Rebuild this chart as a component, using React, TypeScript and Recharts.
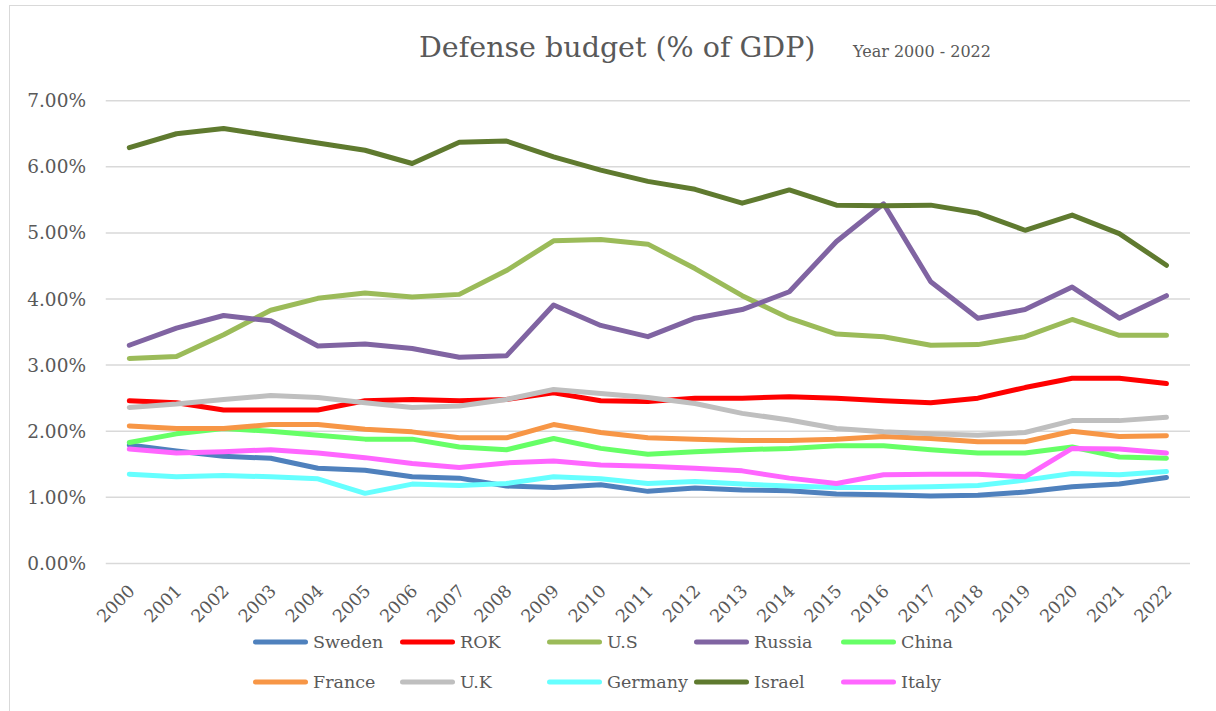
import React from 'react';
import { LineChart, Line, XAxis, YAxis, CartesianGrid, Legend } from 'recharts';

const YEARS = ['2000','2001','2002','2003','2004','2005','2006','2007','2008','2009','2010','2011','2012','2013','2014','2015','2016','2017','2018','2019','2020','2021','2022'];

const SWEDEN = [1.79,1.70,1.62,1.59,1.44,1.41,1.31,1.29,1.17,1.15,1.19,1.09,1.14,1.11,1.10,1.05,1.04,1.02,1.03,1.08,1.16,1.20,1.30];
const ROK = [2.46,2.43,2.32,2.32,2.32,2.46,2.48,2.46,2.48,2.58,2.46,2.45,2.50,2.50,2.52,2.50,2.46,2.43,2.50,2.66,2.80,2.80,2.72];
const US = [3.10,3.13,3.46,3.83,4.01,4.09,4.03,4.07,4.43,4.88,4.90,4.83,4.46,4.05,3.71,3.47,3.43,3.30,3.31,3.43,3.69,3.45,3.45];
const RUSSIA = [3.30,3.56,3.75,3.67,3.29,3.32,3.25,3.12,3.14,3.91,3.60,3.43,3.71,3.84,4.11,4.87,5.44,4.26,3.71,3.84,4.18,3.71,4.05];
const CHINA = [1.83,1.96,2.04,2.00,1.94,1.88,1.88,1.76,1.72,1.89,1.74,1.65,1.69,1.72,1.74,1.78,1.78,1.72,1.67,1.67,1.76,1.61,1.59];
const FRANCE = [2.08,2.04,2.04,2.10,2.10,2.03,1.99,1.90,1.90,2.10,1.98,1.90,1.88,1.86,1.86,1.88,1.92,1.89,1.84,1.84,2.00,1.92,1.93];
const UK = [2.36,2.41,2.48,2.54,2.51,2.43,2.36,2.38,2.48,2.63,2.57,2.51,2.42,2.27,2.17,2.04,1.99,1.96,1.94,1.98,2.16,2.16,2.21];
const GERMANY = [1.35,1.31,1.33,1.31,1.28,1.06,1.20,1.18,1.21,1.31,1.28,1.21,1.24,1.20,1.17,1.15,1.15,1.16,1.18,1.26,1.36,1.34,1.39];
const ISRAEL = [6.29,6.50,6.58,6.47,6.36,6.25,6.05,6.37,6.39,6.15,5.95,5.78,5.66,5.45,5.65,5.42,5.41,5.42,5.30,5.04,5.27,4.99,4.51];
const ITALY = [1.73,1.67,1.69,1.72,1.67,1.60,1.51,1.45,1.52,1.55,1.49,1.47,1.44,1.40,1.29,1.21,1.34,1.35,1.35,1.31,1.74,1.73,1.67];

const Y_TICKS = [0, 1, 2, 3, 4, 5, 6, 7];

const SERIES = [
  { name: 'Sweden', color: '#4F81BD', values: SWEDEN },
  { name: 'ROK', color: '#FF0000', values: ROK },
  { name: 'U.S', color: '#9BBB59', values: US },
  { name: 'Russia', color: '#8064A2', values: RUSSIA },
  { name: 'China', color: '#66FF66', values: CHINA },
  { name: 'France', color: '#F79646', values: FRANCE },
  { name: 'U.K', color: '#BFBFBF', values: UK },
  { name: 'Germany', color: '#66FFFF', values: GERMANY },
  { name: 'Israel', color: '#5F7A2F', values: ISRAEL },
  { name: 'Italy', color: '#FF66FF', values: ITALY },
];

const data = YEARS.map((year, i) => {
  const row: Record<string, any> = { year };
  SERIES.forEach((s) => { row[s.name] = s.values[i]; });
  return row;
});

const FONT = '"DejaVu Serif", serif';
const TEXT = '#595959';

const XTick = (props: any) => {
  const { x, y, payload } = props;
  const ax = x + 6.5;
  const ay = y + 28.6;
  return (
    <text x={ax} y={ay} transform={`rotate(-45, ${ax}, ${ay})`} textAnchor="end"
      fontSize={17.5} fill={TEXT} fontFamily={FONT}>
      {payload.value}
    </text>
  );
};

const renderLegend = () => (
  <div style={{ position: 'relative', width: 1216, height: 80, fontFamily: FONT }}>
    {SERIES.map((s, i) => {
      const col = i % 5;
      const row = Math.floor(i / 5);
      return (
        <div key={s.name} style={{ position: 'absolute', left: 253 + col * 147, top: row * 40, height: 40, display: 'flex', alignItems: 'center' }}>
          <svg width={55} height={8} style={{ display: 'block' }}>
            <line x1={2.5} y1={4} x2={52.5} y2={4} stroke={s.color} strokeWidth={5} strokeLinecap="round" />
          </svg>
          <span style={{ marginLeft: 5, fontSize: 17.5, color: TEXT, whiteSpace: 'nowrap' }}>{s.name}</span>
        </div>
      );
    })}
  </div>
);

export default function App() {
  return (
    <div style={{ position: 'absolute', left: 0, top: 0, width: 1216, height: 711, overflow: 'hidden', background: '#fff' }}>
      <div style={{ position: 'absolute', left: 9, top: 5, width: 1230, height: 730, border: '1.5px solid #d9d9d9' }} />
      <svg style={{ position: 'absolute', left: 0, top: 0 }} width={1216} height={80}>
        <text x={419} y={57} fontSize={28.5} fill={TEXT} fontFamily={FONT}>Defense budget (% of GDP)</text>
        <text x={853} y={57} fontSize={16} fill={TEXT} fontFamily={FONT}>Year 2000 - 2022</text>
      </svg>
      <div style={{ position: 'absolute', left: 0, top: 0 }}>
        <LineChart width={1216} height={711} data={data}
          margin={{ top: 100.7, right: 26, left: 0, bottom: 89.6 }}>
          <CartesianGrid vertical={false} stroke="#d9d9d9" strokeWidth={1.5} />
          <XAxis dataKey="year" interval={0} tick={<XTick />} tickLine={false} axisLine={false}
            tickSize={0} tickMargin={0} height={58} padding={{ left: 23.55, right: 23.55 }} />
          <YAxis domain={[0, 7]} ticks={Y_TICKS} tickFormatter={(v: number) => `${v.toFixed(2)}%`}
            width={105.75} tickLine={false} axisLine={false} tickSize={0} tickMargin={19.75}
            tick={{ fontSize: 18.5, fill: TEXT, fontFamily: FONT }} />
          <Legend verticalAlign="middle" layout="horizontal" align="center" content={renderLegend}
            wrapperStyle={{ top: 622, left: 0, width: 1216, height: 80 }} />
          {SERIES.map((s) => (
            <Line key={s.name} type="linear" dataKey={s.name} stroke={s.color} strokeWidth={5}
              dot={false} activeDot={false} isAnimationActive={false}
              strokeLinecap="round" strokeLinejoin="round" />
          ))}
        </LineChart>
      </div>
    </div>
  );
}
